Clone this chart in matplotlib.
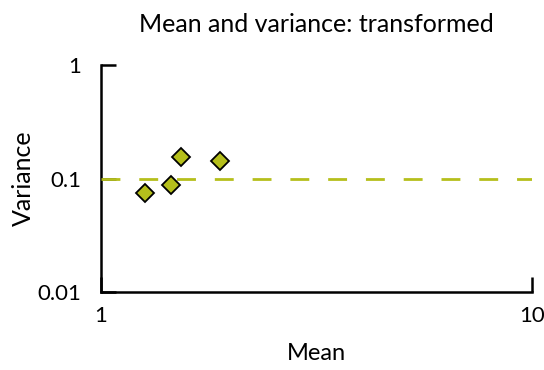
import matplotlib
matplotlib.use("Agg")
import matplotlib.pyplot as plt

plt.rcParams['font.family'] = ['Lato', 'DejaVu Sans']

means = [1.265, 1.451, 1.533, 1.888]
variances = [0.075, 0.0877, 0.154, 0.1426]
ref_level = 0.1
x_ticks = [1, 10]
x_ticklabels = ["1", "10"]
y_ticks = [0.01, 0.1, 1]
y_ticklabels = ["0.01", "0.1", "1"]

green = "#b5bf1c"

fig = plt.figure(figsize=(5.44, 3.70), dpi=100)
ax = fig.add_axes([101/544, 1-292/370, (532-101)/544, (292-65)/370])
ax.set_xscale('log')
ax.set_yscale('log')
ax.set_xlim(1, 10)
ax.set_ylim(0.01, 1)

ax.axhline(ref_level, color=green, lw=2.0, dashes=(6.8, 6.8), zorder=3)
ax.plot(means, variances, linestyle='none', marker='D', markersize=9.5,
        markerfacecolor=green, markeredgecolor='black', markeredgewidth=1.3, zorder=4)

for s in ['top', 'right']:
    ax.spines[s].set_visible(False)
for s in ['left', 'bottom']:
    ax.spines[s].set_linewidth(1.8)

ax.set_xticks(x_ticks)
ax.set_xticklabels(x_ticklabels)
ax.set_yticks(y_ticks)
ax.set_yticklabels(y_ticklabels)
ax.minorticks_off()
ax.tick_params(direction='in', length=11, width=1.8, labelsize=16)
ax.tick_params(axis='x', pad=10)
ax.tick_params(axis='y', pad=14)

ax.set_title("Mean and variance: transformed", fontsize=18, pad=24)
ax.set_xlabel("Mean", fontsize=17, labelpad=12)
ax.set_ylabel("Variance", fontsize=18, labelpad=2)

fig.savefig("out.png", dpi=100)
